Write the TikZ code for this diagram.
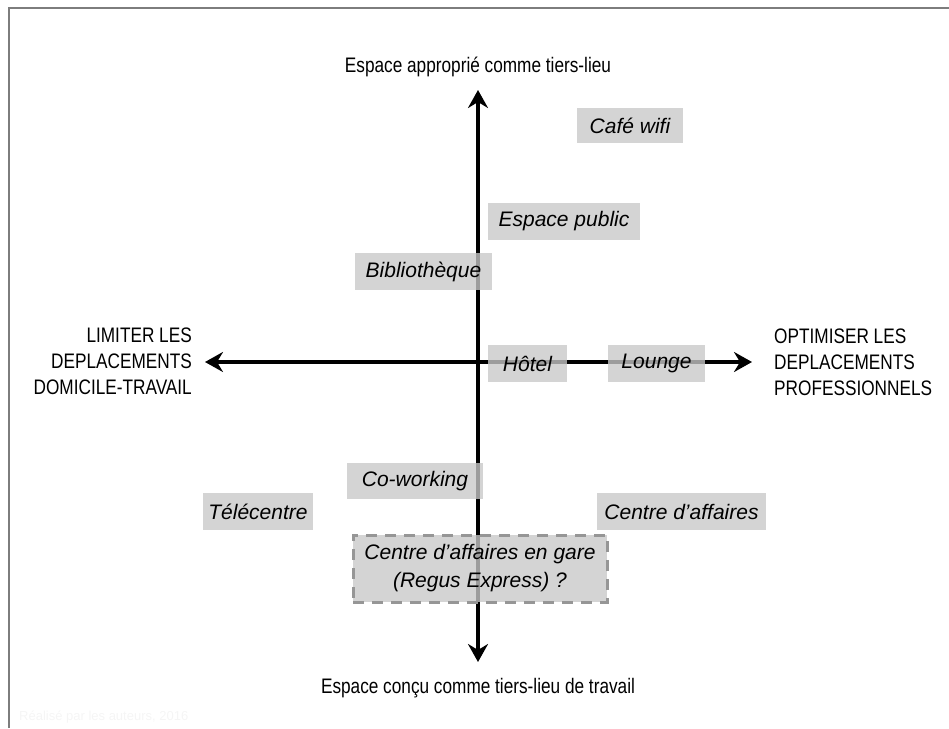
\documentclass[tikz,border=0pt]{standalone}
\usepackage{fontspec}
\setmainfont{Liberation Sans}
\newfontfamily\narrowfont{Liberation Sans}[FakeStretch=0.82]
\usetikzlibrary{arrows.meta}

\definecolor{boxgray}{RGB}{200,200,200}
\definecolor{framegray}{RGB}{125,125,125}
\definecolor{dashgray}{RGB}{150,150,150}

\tikzset{
  axis/.style={line width=4.8pt,
    {Stealth[length=18pt,width=20pt,inset=6pt]}-{Stealth[length=18pt,width=20pt,inset=6pt]}},
  lieu/.style={fill=boxgray, fill opacity=0.78, text opacity=1, inner sep=0pt,
    font=\itshape\fontsize{21}{28}\selectfont},
  axelabel/.style={inner sep=0pt, font=\narrowfont\fontsize{21}{26}\selectfont},
}

\begin{document}
\begin{tikzpicture}[x=1pt, y=-1pt]
		\useasboundingbox (0,0) rectangle (949,728);
		%frame
		\draw[framegray, line width=2pt] (9,728) -- (9,8) -- (949,8);
		
		%axes
		\coordinate (haut) at (478,90);
		\coordinate (bas) at (478,662);
		\coordinate (gauche) at (205,362);
		\coordinate (droite) at (752,362);
		\draw[axis] (bas) -- (haut);
		\draw[axis] (gauche) -- (droite);
		
		\node[axelabel] (hauttxt) at (478,67) {Espace approprié comme tiers-lieu};
		\node[axelabel] (bastxt) at (478,688) {Espace conçu comme tiers-lieu de travail};
		\node[axelabel, anchor=east, align=right] (gauchetxt) at (192,361)
			{LIMITER LES\\DEPLACEMENTS\\DOMICILE-TRAVAIL};
		\node[axelabel, anchor=west, align=left] (droitetxt) at (774,362)
			{OPTIMISER LES\\DEPLACEMENTS\\PROFESSIONNELS};
		
		%lieux
		\node[lieu, minimum width=106, minimum height=35] (cafe) at (630,125.5) {Café wifi};
		\node[lieu, minimum width=152, minimum height=37] (public) at (564,221.5) {Espace public};
		\node[lieu, minimum width=137, minimum height=37] (biblio) at (423.5,271.5) {Bibliothèque};
		\node[lieu, minimum width=79, minimum height=37] (hotel) at (527.5,363.5) {Hôtel};
		\node[lieu, minimum width=97, minimum height=37] (lounge) at (656.5,363.5) {Lounge};
		\node[lieu, minimum width=136, minimum height=36] (cowork) at (415,481) {Co-working};
		\node[lieu, minimum width=110, minimum height=37] (telecentre) at (258,511.5) {Télécentre};
		\node[lieu, minimum width=169, minimum height=37] (affaires) at (681.5,511.5) {Centre d’affaires};
		\node[lieu, draw=dashgray, draw opacity=1, line width=3pt, dash pattern=on 11pt off 8pt,
			minimum width=254, minimum height=67, align=center] (gare) at (480,568.5)
			{Centre d’affaires en gare\\(Regus Express) ?};
		
		\node[anchor=west, inner sep=0pt, text=gray!8, font=\fontsize{13}{15}\selectfont]
			(source) at (19,717) {Réalisé par les auteurs, 2016};
\end{tikzpicture}
\end{document}
